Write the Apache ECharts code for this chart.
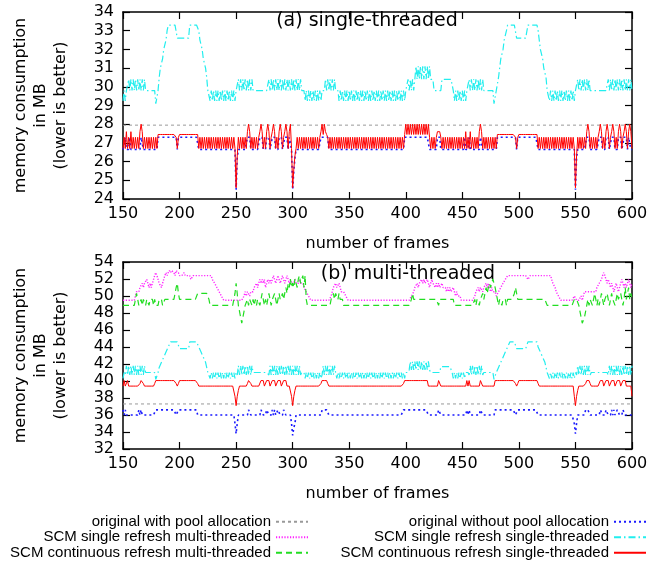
<!DOCTYPE html>
<html>
<head>
<meta charset="UTF-8">
<title>memory consumption</title>
<script src="https://cdn.jsdelivr.net/npm/echarts@6/dist/echarts.min.js"></script>
<style>
  body { margin: 0; }
  #root { width: 662px; height: 562px; }
</style>
</head>
<body>
<div id="root"></div>
<script>
// frames on the x axis: [min, max, step]
var frameTicks = [150, 600, 50];
var firstFrame = 150;

// y axis ranges: [min, max, step]
var ticksA = [24, 34, 1];
var ticksB = [32, 54, 2];

// pool allocation baseline (constant)
var poolFrames = [150, 600];
var poolA = [27.95, 27.95];
var poolB = [37.3, 37.3];

// per-frame values: one code per frame, 10 frames per chunk, from frame 150 to 600
// codes are looked up in the matching levels table (MB)

// (a) SCM continuous refresh single-threaded
var redALevels = { l: 26.7, h: 27.3, m: 27.6, f: 27.45, s: 28.0, d: 24.6, e: 25.6, g: 26.3 };
var redA = [
  "lhlmlhlmlh", "lhlhlmsmlh", "lhlhlhlhlh", "lfffffffff", "fffffffhlh",
  "ffffffffff", "ffffffflhl", "hlhlhlhlhl", "hlhlhlhlhl", "hlhlhlhlhl",
  "dghlhlhlhl", "msmlhlhlhl", "hmsmlhlmsm", "lhmsmlhlms", "mlhmsmlmsl",
  "deglhlhlhl", "hlhlhlhlhl", "hlhlhmsfsm", "fhlhlhlhlh", "lhlhlhlhlh",
  "lhlhlhlhlh", "lhlhlhlhlh", "lhlhlhlhlh", "lhlhlhlhlh", "lhlhlhlhlf",
  "sfsfsfsfsf", "sfsfsfsfsf", "shlhlhlhmm", "mhlhlhlhlh", "lhlhlhlhlh",
  "lhlmlhlmlh", "lhlhlmsmlh", "lhlhlhlhlh", "lfffffffff", "fffffffhlh",
  "ffffffffff", "ffffffflhl", "hlhlhlhlhl", "hlhlhlhlhl", "hlhlhlhlhl",
  "dghlhlhlhl", "msmlhlhlhl", "hmsmlhlmsm", "lhmsmlhlms", "mlhmsmlmsm",
  "l"
];

// (a) original without pool allocation
var blueALevels = { l: 26.65, u: 27.3, d: 24.5, e: 25.5, g: 26.2 };
var blueA = [
  "llulllulll", "lllllluull", "llllllllll", "luuuuuuuuu", "uuuuuuuulu",
  "uuuuuuuuuu", "uuuuuuulll", "llllllllll", "llllllllll", "llllllllll",
  "dgllllllll", "uuulllllll", "luuullluuu", "lluuullluu", "ulluuuluul",
  "deglllllll", "llllllllll", "llllluuuuu", "uullllllll", "llllllllll",
  "llllllllll", "llllllllll", "llllllllll", "llllllllll", "lllllllllu",
  "uuuuuuuuuu", "uuuuuuuuuu", "ullllllluu", "ulllllllll", "llllllllll",
  "llulllulll", "lllllluull", "llllllllll", "luuuuuuuuu", "uuuuuuuulu",
  "uuuuuuuuuu", "uuuuuuulll", "llllllllll", "llllllllll", "llllllllll",
  "dgllllllll", "uuulllllll", "luuullluuu", "lluuullluu", "ulluuuluul",
  "l"
];

// (a) SCM single refresh single-threaded
var cyanALevels = { a: 29.25, b: 29.8, c: 30.4, d: 29.1, f: 31.1,
  "1": 30.5, "2": 31.0, "3": 31.5, "4": 32.0, "5": 32.5, "6": 33.0, T: 33.3, P: 32.6 };
var cyanA = [
  "ababbcbcbc", "bcbcbcbcbc", "bbbbbbbbbd", "db12234456", "TTTTTTTTPP",
  "PPPPPPPPPT", "TTTTTTT655", "43321bbaba", "bababababa", "bababababa",
  "bbcbcbcbcb", "cbcbcbbbbb", "bbbbbbbbbc", "bcbcbcbcbc", "bcbcbcbcbc",
  "bcbcbcbcbb", "bababababa", "babababbbc", "bcbcbcbcbb", "bababababa",
  "bababababa", "bababababa", "bababababa", "bababababa", "bababababa",
  "bbcbcbcbcf", "cfcfcfcfcf", "cfcccbbbbb", "bbcccccccc", "ccbabababa",
  "bababbcbcb", "cbcbcbcbcb", "bbbbbbbbdd", "bb12334556", "TTTTTTTTPP",
  "PPPPPPPPTT", "TTTTTTT654", "43221bbaba", "bababababa", "bababababa",
  "bbcbcbcbcb", "cbcbbbbbbb", "bbbbbbbbbc", "bcbcbcbcbc", "bcbcbcbcbc",
  "b"
];

// (b) SCM continuous refresh single-threaded
var redBLevels = { l: 39.4, u: 40.05, m: 39.7, d: 37.1, e: 38.2, g: 38.9 };
var redB = [
  "lullulllll", "lllllmuuml", "llllllllmu", "uuuuuuuuuu", "uuuuuuumlm",
  "uuuuuuuuuu", "uuuuuumlll", "llllllllll", "llllllllll", "llllllllle",
  "deglllllll", "muumllllll", "lluuulluuu", "lluuulluuu", "lluuulllle",
  "deglllllll", "llllllllll", "lllllmuuuu", "umllllllll", "llllllllll",
  "llllllllll", "llllllllll", "llllllllll", "llllllllll", "llllllllmu",
  "uuuuuuuuuu", "uuuuuuuuuu", "lllllllllu", "ulllllllll", "llllllllll",
  "llllululll", "lllllluull", "lllllllllu", "uuuuuuuuuu", "uuuuuuumlm",
  "uuuuuuuuuu", "uuuuuuumll", "llllllllll", "llllllllll", "llllllllle",
  "degllllllm", "uuumllllll", "lluuulluuu", "lluuulluuu", "lluuulllll",
  "e"
];

// (b) original without pool allocation
var blueBLevels = { l: 36.0, u: 36.6, d: 33.8, D: 33.6, e: 35.0, f: 34.5 };
var blueB = [
  "ululllllll", "llllululll", "lllllllllu", "uuuuuuuuuu", "uuuuuuullu",
  "uuuuuuuuuu", "uuuuuullll", "llllllllll", "llllllllll", "llllllllle",
  "dellllllll", "luulllllll", "lluullluul", "llululluul", "lluullllle",
  "Dfelllllll", "llllllllll", "lllllluuuu", "uullllllll", "llllllllll",
  "llllllllll", "llllllllll", "llllllllll", "llllllllll", "lllllllluu",
  "uuuuuuuuuu", "uuuuuuuuuu", "lllllllllu", "ulllllllll", "llllllllll",
  "llllululll", "lllllluull", "lllllllllu", "uuuuuuuuuu", "uuuuuuullu",
  "uuuuuuuuuu", "uuuuuuulll", "llllllllll", "llllllllll", "llllllllle",
  "delllllllu", "uuulllllll", "lluullluul", "llululluul", "lluullllll",
  "l"
];

// (b) SCM single refresh single-threaded
var cyanBLevels = { a: 40.3, b: 41.0, v: 40.7, c: 41.8, d: 40.2, h: 42.3, i: 41.3, k: 41.7,
  "1": 41.6, "2": 42.2, "3": 42.8, "4": 43.4, "5": 44.0, T: 44.6, P: 43.8 };
var cyanB = [
  "abvcvcvcvc", "vcvcvcvcvc", "bbbbbbbbbd", "db11223344", "55TTTTTTTT",
  "PPPPPPPPPT", "TTTTTTT554", "43321bbaba", "bababababa", "bababababa",
  "bvcvcvcvcv", "cvcvcbbbbb", "bbbbbbbbbv", "cvcvcvcvcv", "cvcvcvcvcv",
  "cvcvcvcvbb", "bababababa", "bababavcvc", "vcvcvcvcba", "bababababa",
  "bababababa", "bababababa", "bababababa", "bababababa", "bababababa",
  "bbbihihihi", "hihihihihi", "hibbbbbbbb", "bkkkkkkkkk", "kbabababab",
  "ababbbvcvc", "vcvcvcvcvb", "bbbbbbbbdd", "bb11223344", "55TTTTTTPP",
  "PPPPPPPPTT", "TTTTTTT554", "43321bbaba", "bababababa", "bababababa",
  "bvcvcvcvcv", "cvcvbbbbbb", "bbbbbbbbbv", "cvcvcvcvcv", "cvcvcvcvcv",
  "c"
];

// (b) SCM single refresh multi-threaded
var magentaBLevels = { "0": 49.5, "1": 50.0, "2": 50.5, "3": 51.0, "4": 51.5,
  "5": 51.95, "6": 52.4, "7": 52.75, "8": 53.0 };
var magentaB = [
  "0000000000", "0122233434", "4543434567", "6544345676", "7878876887",
  "6666766666", "5566666666", "6666666665", "5443322110", "0000000000",
  "0000000121", "2212223343", "4545453454", "5456545654", "5654565454",
  "4454445444", "3322110000", "0000000000", "0000123343", "3432222110",
  "0000000000", "0000000000", "0000000000", "0000000000", "0000000000",
  "0000011233", "4344545445", "4345443434", "3343332323", "2232121110",
  "0000000000", "0122323323", "3434323222", "1122334455", "6666666666",
  "6666666655", "6666666666", "6666666665", "4432211000", "0000000001",
  "1000010122", "2222222223", "3445676545", "4343234323", "4543434543",
  "4"
];

// (b) SCM continuous refresh multi-threaded
var greenBLevels = { "0": 48.9, "1": 49.6, "2": 50.3, "3": 51.0, "4": 51.5,
  "5": 52.0, "6": 52.4, z: 48.2, x: 47.5, y: 46.8 };
var greenB = [
  "0000000000", "0121001011", "0110111010", "0011100111", "1111111342",
  "1111111111", "1111112222", "2222221000", "0000000000", "0000000002",
  "420zxyxz00", "1011010101", "1012101012", "1011210121", "1212324353",
  "4354356456", "3610000000", "0000000000", "0000112122", "1211100000",
  "0000000000", "0000000000", "0000000000", "0000000000", "0000000000",
  "0000012111", "1111111111", "1111111110", "1111111111", "1110000000",
  "0000000000", "0101101121", "2323434543", "2101101110", "1111112321",
  "1111111111", "1111111111", "1111100000", "0000000000", "0000000001",
  "1110zxyyxz", "0101101210", "1012101121", "0121101211", "2101312312",
  "1"
];

var names = {
  pool: 'original with pool allocation',
  noPool: 'original without pool allocation',
  singleMT: 'SCM single refresh multi-threaded',
  singleST: 'SCM single refresh single-threaded',
  contMT: 'SCM continuous refresh multi-threaded',
  contST: 'SCM continuous refresh single-threaded'
};

function decode(label, chunks, levels) {
  var codes = chunks.join('');
  if (codes.length !== 451) throw new Error(label + ' has ' + codes.length + ' frames');
  var out = [];
  for (var i = 0; i < codes.length; i++) {
    out.push([firstFrame + i, levels[codes[i]]]);
  }
  return out;
}

function pairs(xs, ys) {
  return xs.map(function (x, i) { return [x, ys[i]]; });
}

var font = 'DejaVu Sans';

function frameAxis(grid, pos, show) {
  return {
    type: 'value', gridIndex: grid, position: pos,
    min: frameTicks[0], max: frameTicks[1], interval: frameTicks[2],
    axisLine: { show: true, onZero: false, lineStyle: { color: '#000', width: 1.5 } },
    axisTick: { show: true, inside: true, length: 7, lineStyle: { color: '#000', width: 1.2 } },
    axisLabel: { show: show, margin: 7, color: '#000', fontSize: 16, fontFamily: font },
    splitLine: { show: false },
    name: show ? 'number of frames' : '',
    nameLocation: 'middle', nameGap: 37,
    nameTextStyle: { color: '#000', fontSize: 16, fontFamily: font }
  };
}

function memAxis(grid, pos, show, ticks) {
  return {
    type: 'value', gridIndex: grid, position: pos,
    min: ticks[0], max: ticks[1], interval: ticks[2],
    axisLine: { show: true, onZero: false, lineStyle: { color: '#000', width: 1.5 } },
    axisTick: { show: true, inside: true, length: 7, lineStyle: { color: '#000', width: 1.2 } },
    axisLabel: { show: show, margin: 9, color: '#000', fontSize: 16, fontFamily: font },
    splitLine: { show: false },
    name: show ? 'memory consumption\nin MB\n(lower is better)' : '',
    nameLocation: 'middle', nameGap: 52, nameRotate: 90,
    nameTextStyle: { color: '#000', fontSize: 16, fontFamily: font, lineHeight: 20 }
  };
}

function line(name, axis, data, color, dash, width) {
  return {
    name: name, type: 'line', xAxisIndex: axis, yAxisIndex: axis,
    data: data, symbol: 'none', showSymbol: false, silent: true,
    animation: false,
    lineStyle: { color: color, type: dash, width: width },
    itemStyle: { color: color },
    emphasis: { disabled: true }
  };
}

var colors = { pool: '#999999', noPool: '#1a1aff', singleMT: '#ff22ff',
  singleST: '#22eeee', contMT: '#22dd22', contST: '#ff0000' };
var dashes = { pool: [3, 3], noPool: [2, 3], singleMT: [1.2, 1.6],
  singleST: [7, 3, 1.5, 3], contMT: [6, 4], contST: 'solid' };

function legendBlock(items, right) {
  return {
    data: items,
    orient: 'vertical', align: 'right', right: right, top: 509, height: 60,
    itemWidth: 32, itemHeight: 12, itemGap: 0, selectedMode: false,
    itemStyle: { opacity: 0, borderWidth: 0 },
    textStyle: { fontFamily: 'Liberation Sans', fontSize: 15, lineHeight: 15.5, color: '#000' }
  };
}

var chart = echarts.init(document.getElementById('root'));

chart.setOption({
  animation: false,
  grid: [
    { left: 123, top: 12, width: 509, height: 187 },
    { left: 123, top: 262, width: 509, height: 187 }
  ],
  xAxis: [frameAxis(0, 'bottom', true), frameAxis(1, 'bottom', true),
          frameAxis(0, 'top', false), frameAxis(1, 'top', false)],
  yAxis: [memAxis(0, 'left', true, ticksA), memAxis(1, 'left', true, ticksB),
          memAxis(0, 'right', false, ticksA), memAxis(1, 'right', false, ticksB)],
  legend: [
    legendBlock([names.pool, names.singleMT, names.contMT], 348),
    legendBlock([names.noPool, names.singleST, names.contST], 10)
  ],
  graphic: [
    { type: 'text', x: 367, y: 21, silent: true,
      style: { text: '(a) single-threaded', font: '19px "DejaVu Sans"', fill: '#000', align: 'center', verticalAlign: 'middle' } },
    { type: 'text', x: 408, y: 274, silent: true,
      style: { text: '(b) multi-threaded', font: '19px "DejaVu Sans"', fill: '#000', align: 'center', verticalAlign: 'middle' } }
  ],
  series: [
    line(names.pool, 0, pairs(poolFrames, poolA), colors.pool, dashes.pool, 1),
    line(names.noPool, 0, decode('blueA', blueA, blueALevels), colors.noPool, dashes.noPool, 1.6),
    line(names.singleST, 0, decode('cyanA', cyanA, cyanALevels), colors.singleST, dashes.singleST, 1.2),
    line(names.contST, 0, decode('redA', redA, redALevels), colors.contST, dashes.contST, 1),

    line(names.pool, 1, pairs(poolFrames, poolB), colors.pool, dashes.pool, 1),
    line(names.singleMT, 1, decode('magentaB', magentaB, magentaBLevels), colors.singleMT, dashes.singleMT, 1.4),
    line(names.contMT, 1, decode('greenB', greenB, greenBLevels), colors.contMT, dashes.contMT, 1.2),
    line(names.noPool, 1, decode('blueB', blueB, blueBLevels), colors.noPool, dashes.noPool, 1.6),
    line(names.singleST, 1, decode('cyanB', cyanB, cyanBLevels), colors.singleST, dashes.singleST, 1.2),
    line(names.contST, 1, decode('redB', redB, redBLevels), colors.contST, dashes.contST, 1)
  ]
});
</script>
</body>
</html>
